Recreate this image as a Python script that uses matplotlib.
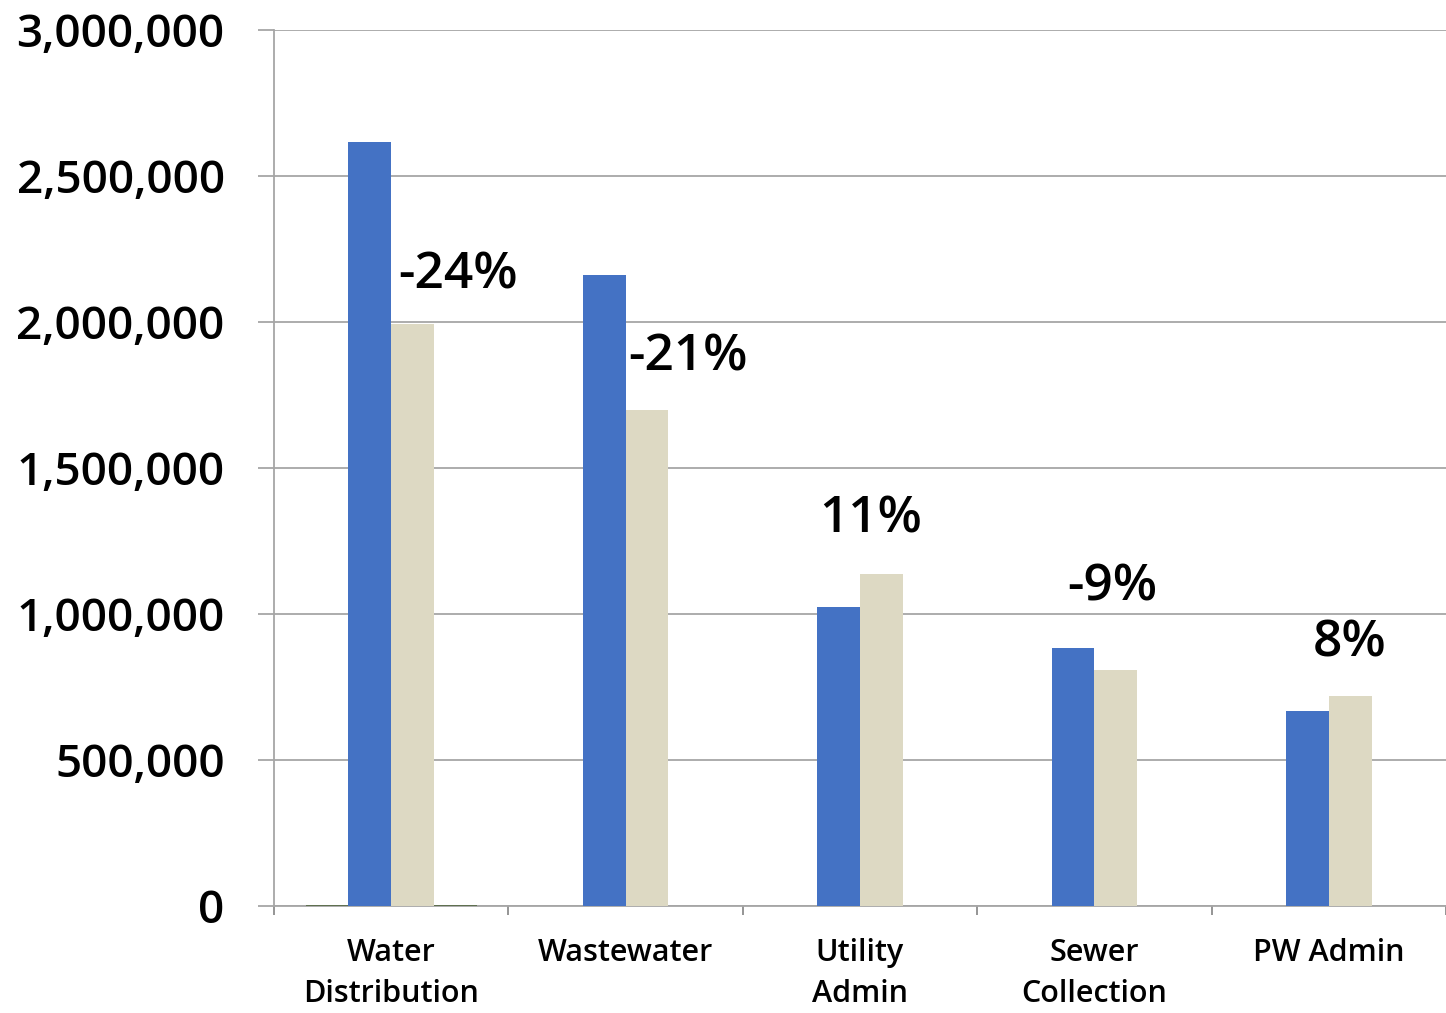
import numpy as np
import matplotlib
matplotlib.use("Agg")
import matplotlib.pyplot as plt
from matplotlib.ticker import FuncFormatter, MultipleLocator

categories = ["Water\nDistribution", "Wastewater", "Utility\nAdmin", "Sewer\nCollection", "PW Admin"]
prior = [2616000, 2161000, 1024000, 884000, 668000]
current = [1993000, 1699000, 1137000, 808000, 719000]
# two near-empty series that only show up as slivers on the baseline
extra_a = [4000, 0, 0, 0, 0]
extra_b = [4000, 0, 0, 0, 0]
change_labels = ["-24%", "-21%", "11%", "-9%", "8%"]

# where the change labels sit (x offset from category, height)
label_dx = [0.285, 0.265, 0.047, 0.076, 0.09]
label_y = [2160000, 1880000, 1322000, 1092000, 900000]

plt.rcParams['font.family'] = ['Open Sans', 'DejaVu Sans']

fig = plt.figure(figsize=(14.46, 10.13), dpi=100)
ax = fig.add_axes([274/1446, 1 - 906/1013, 1 - 274/1446, (906 - 30)/1013])

x = np.arange(len(categories))
w = 43/236
ax.bar(x - 1.5*w, extra_a, w, color="#5f7050", zorder=3)
ax.bar(x - 0.5*w, prior, w, color="#4472C4", zorder=3)
ax.bar(x + 0.5*w, current, w, color="#DDD9C3", zorder=3)
ax.bar(x + 1.5*w, extra_b, w, color="#5f7050", zorder=3)

for i, lab in enumerate(change_labels):
    ax.text(x[i] + label_dx[i], label_y[i], lab, ha="center", va="center",
            fontsize=37, fontweight="semibold", color="black")

ax.set_ylim(0, 3000000)
ax.set_xlim(-0.5, 4.471)
ax.yaxis.set_major_locator(MultipleLocator(500000))
ax.yaxis.set_major_formatter(FuncFormatter(lambda v, p: f"{int(v):,}"))
ax.grid(axis="y", color="#a6a6a6", linewidth=1.3, zorder=0)

ax.set_xticks(np.arange(-0.5, 4.6, 1.0), minor=False)
ax.set_xticklabels([])
ax.set_xticks(x, minor=True)
ax.set_xticklabels(categories, minor=True)
ax.tick_params(axis="x", which="minor", length=0, pad=23, labelsize=22)
ax.tick_params(axis="x", which="major", length=6.5, color="#8c8c8c", width=1.3)
ax.tick_params(axis="y", length=11.5, color="#a6a6a6", width=1.3, labelsize=33, pad=24)
for t in ax.get_yticklabels() + ax.get_xticklabels(minor=True):
    t.set_fontweight("semibold")
for t in ax.get_xticklabels(minor=True):
    t.set_linespacing(1.5)

for s in ["top", "right"]:
    ax.spines[s].set_visible(False)
ax.spines["left"].set_color("#a6a6a6")
ax.spines["bottom"].set_color("#a6a6a6")
ax.spines["left"].set_linewidth(1.3)
ax.spines["bottom"].set_linewidth(1.3)

fig.savefig("out.png", dpi=100)
